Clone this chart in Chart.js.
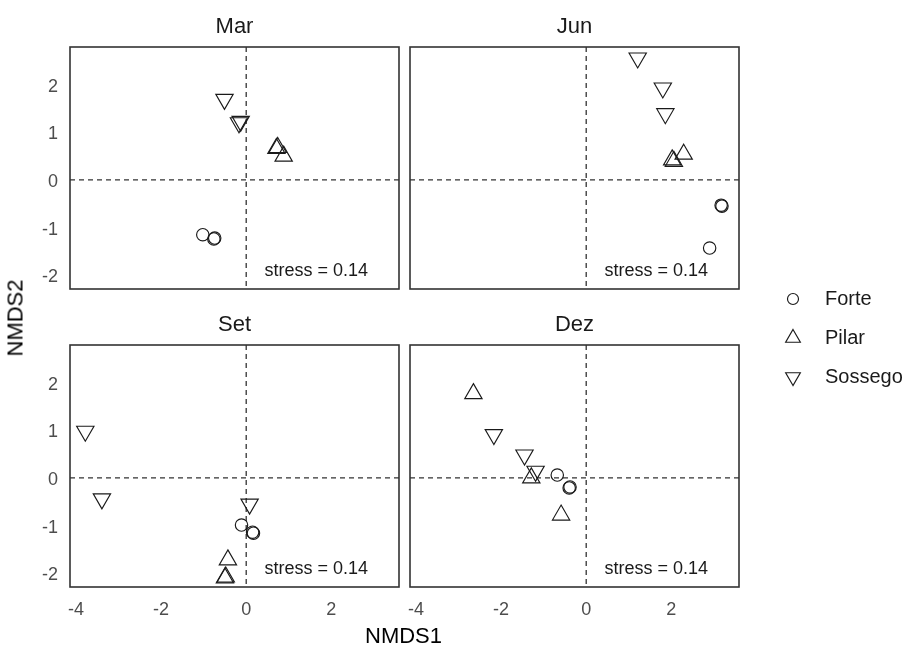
<!DOCTYPE html>
<html>
<head>
<meta charset="utf-8">
<script src="https://cdn.jsdelivr.net/npm/chart.js@4.4.1/dist/chart.umd.min.js"></script>
<style>
  html, body { margin: 0; padding: 0; background: #fff; }
  body { width: 907px; height: 648px; position: relative; overflow: hidden;
         font-family: "Liberation Sans", Arial, sans-serif; }
  canvas { position: absolute; }
  .axis-title { position: absolute; font-size: 22px; color: #000; white-space: nowrap; }
</style>
</head>
<body>
<canvas id="cMar" width="404" height="300" style="left:0;top:0"></canvas>
<canvas id="cJun" width="376" height="300" style="left:404px;top:0"></canvas>
<canvas id="cSet" width="404" height="348" style="left:0;top:300px"></canvas>
<canvas id="cDez" width="376" height="348" style="left:404px;top:300px"></canvas>
<canvas id="cLegend" width="151" height="115" style="left:756px;top:280px"></canvas>
<div class="axis-title" id="xTitle" style="left:365px;top:623px">NMDS1</div>
<div class="axis-title" id="yTitle" style="left:-23px;top:305px;transform:rotate(-90deg);transform-origin:center">NMDS2</div>

<script>
// Sites, in the order of the samples within every month
const sites = ['Forte', 'Pilar', 'Sossego'];
const sampleSite = ['Forte', 'Forte', 'Forte', 'Pilar', 'Pilar', 'Pilar', 'Sossego', 'Sossego', 'Sossego'];

// NMDS scores per month
const marNMDS1 = [-1.02, -0.76, -0.74, 0.71, 0.74, 0.88, -0.51, -0.17, -0.13];
const marNMDS2 = [-1.15, -1.24, -1.22, 0.66, 0.68, 0.50, 1.69, 1.20, 1.23];

const junNMDS1 = [3.17, 3.19, 2.90, 2.02, 2.06, 2.29, 1.21, 1.80, 1.86];
const junNMDS2 = [-0.53, -0.55, -1.43, 0.42, 0.39, 0.54, 2.56, 1.93, 1.39];

const setNMDS1 = [-0.11, 0.15, 0.17, -0.43, -0.48, -0.50, -3.78, -3.39, 0.08];
const setNMDS2 = [-0.99, -1.14, -1.16, -1.72, -2.08, -2.10, 0.98, -0.44, -0.55];

const dezNMDS1 = [-0.68, -0.38, -0.40, -2.65, -1.29, -0.59, -2.17, -1.45, -1.19];
const dezNMDS2 = [0.06, -0.19, -0.21, 1.77, 0.00, -0.78, 0.91, 0.48, 0.14];

const stressValue = 0.14;

// Axis ticks and limits
const xTicks = [-4, -2, 0, 2];
const yTicks = [-2, -1, 0, 1, 2];
const xLimits = [-4.14, 3.59];
const yLimits = [-2.29, 2.79];

const FONT = '"Liberation Sans", Arial, sans-serif';
const INK = '#1a1a1a';

const siteStyle = {
  Forte:   { pointStyle: 'circle',   rotation: 0,   radius: 6.2, legendRadius: 5.5 },
  Pilar:   { pointStyle: 'triangle', rotation: 0,   radius: 10,  legendRadius: 8.5 },
  Sossego: { pointStyle: 'triangle', rotation: 180, radius: 10,  legendRadius: 8.5 }
};

// Frame, dashed origin lines, strip title and stress note of one panel
const panelDecor = {
  id: 'panelDecor',
  beforeDatasetsDraw(chart) {
    const { ctx, chartArea: a, scales: { x, y } } = chart;
    const x0 = x.getPixelForValue(0);
    const y0 = y.getPixelForValue(0);
    ctx.save();
    ctx.strokeStyle = '#333';
    ctx.lineWidth = 1.3;
    ctx.setLineDash([5, 4]);
    ctx.beginPath();
    ctx.moveTo(x0, a.top); ctx.lineTo(x0, a.bottom);
    ctx.moveTo(a.left, y0); ctx.lineTo(a.right, y0);
    ctx.stroke();
    ctx.restore();
  },
  afterDraw(chart, args, opts) {
    const { ctx, chartArea: a } = chart;
    ctx.save();
    ctx.strokeStyle = '#333';
    ctx.lineWidth = 1.6;
    ctx.setLineDash([]);
    ctx.strokeRect(a.left, a.top, a.right - a.left, a.bottom - a.top);
    ctx.fillStyle = INK;
    ctx.textBaseline = 'middle';
    ctx.textAlign = 'center';
    ctx.font = '22px ' + FONT;
    ctx.fillText(opts.title, (a.left + a.right) / 2, a.top - 20);
    ctx.textAlign = 'right';
    ctx.font = '18px ' + FONT;
    ctx.fillText('stress = ' + stressValue.toFixed(2), a.right - 31, a.bottom - 18);
    ctx.restore();
  }
};

function siteDatasets(xs, ys) {
  return sites.map(site => {
    const st = siteStyle[site];
    const data = [];
    sampleSite.forEach((s, i) => { if (s === site) data.push({ x: xs[i], y: ys[i] }); });
    return {
      label: site,
      data,
      pointStyle: st.pointStyle,
      pointRotation: st.rotation,
      pointRadius: st.radius,
      pointBorderWidth: 1.15,
      borderColor: INK,
      backgroundColor: 'rgba(0,0,0,0)',
      showLine: false,
      clip: false
    };
  });
}

function makePanel(id, title, xs, ys, showX, showY, padding) {
  const xScale = {
    type: 'linear', min: xLimits[0], max: xLimits[1], display: showX,
    grid: { display: false, drawTicks: false }, border: { display: false },
    ticks: { color: '#4d4d4d', font: { family: FONT, size: 18 }, padding: 12 },
    afterBuildTicks: s => { s.ticks = xTicks.map(v => ({ value: v })); },
    // fixed axis band; the panels keep their own outer margins
    afterFit: s => { if (showX) s.height = 30; s.paddingLeft = 0; s.paddingRight = 0; }
  };
  const yScale = {
    type: 'linear', min: yLimits[0], max: yLimits[1], display: showY,
    grid: { display: false, drawTicks: false }, border: { display: false },
    ticks: { color: '#4d4d4d', font: { family: FONT, size: 18 }, padding: 12, labelOffset: 2 },
    afterBuildTicks: s => { s.ticks = yTicks.map(v => ({ value: v })); },
    afterFit: s => { if (showY) s.width = 70; s.paddingTop = 0; s.paddingBottom = 0; }
  };
  return new Chart(document.getElementById(id), {
    type: 'scatter',
    data: { datasets: siteDatasets(xs, ys) },
    options: {
      responsive: false,
      animation: false,
      devicePixelRatio: 1,
      events: [],
      layout: { padding, autoPadding: false },
      plugins: { legend: { display: false }, tooltip: { enabled: false }, panelDecor: { title } },
      scales: { x: xScale, y: yScale }
    },
    plugins: [panelDecor]
  });
}

makePanel('cMar', 'Mar', marNMDS1, marNMDS2, false, true,  { left: 0,  top: 47, right: 5,  bottom: 11 });
makePanel('cJun', 'Jun', junNMDS1, junNMDS2, false, false, { left: 6,  top: 47, right: 41, bottom: 11 });
makePanel('cSet', 'Set', setNMDS1, setNMDS2, true,  true,  { left: 0,  top: 45, right: 5,  bottom: 31 });
makePanel('cDez', 'Dez', dezNMDS1, dezNMDS2, true,  false, { left: 6,  top: 45, right: 41, bottom: 31 });

// Key: one symbol per site, with the site names as a category axis beside them
new Chart(document.getElementById('cLegend'), {
  type: 'scatter',
  data: {
    datasets: sites.map(site => ({
      label: site,
      data: [{ x: 0, y: site }],
      pointStyle: siteStyle[site].pointStyle,
      pointRotation: siteStyle[site].rotation,
      pointRadius: siteStyle[site].legendRadius,
      pointBorderWidth: 1.15,
      borderColor: INK,
      backgroundColor: 'rgba(0,0,0,0)',
      clip: false
    }))
  },
  options: {
    responsive: false,
    animation: false,
    devicePixelRatio: 1,
    events: [],
    layout: { padding: { left: 5, top: 19, right: 0, bottom: 18 }, autoPadding: false },
    plugins: { legend: { display: false }, tooltip: { enabled: false } },
    scales: {
      x: { type: 'linear', min: -1, max: 1, display: false },
      y: {
        type: 'category', labels: sites, position: 'right', offset: false,
        grid: { display: false, drawTicks: false }, border: { display: false },
        ticks: { color: INK, font: { family: FONT, size: 20 }, padding: 0 },
        afterFit: s => { s.width = 82; }
      }
    }
  }
});
</script>
</body>
</html>
